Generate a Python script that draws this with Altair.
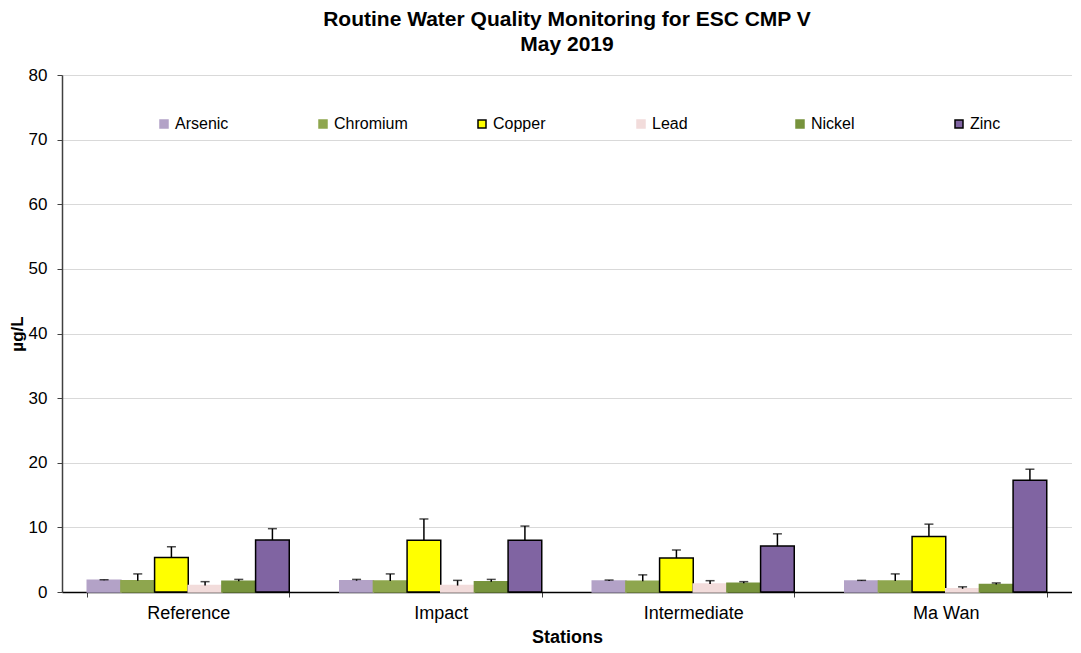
import altair as alt
import pandas as pd

stations = ["Reference", "Impact", "Intermediate", "Ma Wan"]
metals = ["Arsenic", "Chromium", "Copper", "Lead", "Nickel", "Zinc"]

arsenic = [1.8, 1.75, 1.7, 1.7]
chromium = [1.75, 1.7, 1.65, 1.7]
copper = [5.35, 8.0, 5.25, 8.6]
lead = [1.0, 1.0, 1.25, 0.5]
nickel = [1.65, 1.6, 1.35, 1.15]
zinc = [8.05, 8.0, 7.1, 17.3]

arsenic_err = [0.1, 0.2, 0.15, 0.1]
chromium_err = [1.05, 1.1, 1.0, 1.1]
copper_err = [1.65, 3.3, 1.25, 1.9]
lead_err = [0.6, 0.8, 0.5, 0.3]
nickel_err = [0.3, 0.35, 0.25, 0.25]
zinc_err = [1.75, 2.2, 1.9, 1.7]

fills = ["#B3A2C7", "#8EA64E", "#FFFF00", "#F2DCDB", "#77933C", "#8064A2"]
strokes = ["#B3A2C7", "#8EA64E", "#000000", "#F2DCDB", "#77933C", "#000000"]

vals = [arsenic, chromium, copper, lead, nickel, zinc]
errs = [arsenic_err, chromium_err, copper_err, lead_err, nickel_err, zinc_err]

rows = []
for m, v, e in zip(metals, vals, errs):
    for s, vv, ee in zip(stations, v, e):
        rows.append({"station": s, "metal": m, "value": vv, "upper": vv + ee})
df = pd.DataFrame(rows)

FONT = "Liberation Sans"

legend_kw = dict(title=None, orient="none", direction="horizontal",
                 columns=6, legendX=94, legendY=41,
                 symbolType="square", symbolSize=64, symbolStrokeWidth=1.5,
                 labelFontSize=16, labelFont=FONT, labelColor="#000",
                 columnPadding=66, gridAlign="all", labelOffset=3)

x = alt.X("station:N", sort=stations, title="Stations",
          scale=alt.Scale(paddingInner=0.2, paddingOuter=0.1),
          axis=alt.Axis(labelAngle=0, tickBand="extent", labelFontSize=18,
                        titleFontSize=18, titleFontWeight="bold", labelColor="#000",
                        titleColor="#000", domainColor="#000", tickColor="#404040",
                        tickSize=5, labelPadding=7, titlePadding=6, grid=False,
                        labelFont=FONT, titleFont=FONT, domainWidth=1.5))
xo = alt.XOffset("metal:N", sort=metals, scale=alt.Scale(paddingInner=0, paddingOuter=0))

base = alt.Chart(df)

bars = base.mark_bar(strokeWidth=1.5).encode(
    x=x,
    xOffset=xo,
    y=alt.Y("value:Q", title="µg/L",
            scale=alt.Scale(domain=[0, 80]),
            axis=alt.Axis(values=list(range(0, 81, 10)), labelFontSize=17, titleFontSize=17,
                          titleFontWeight="bold", labelColor="#000", titleColor="#000",
                          domainColor="#404040", tickColor="#404040", gridColor="#D9D9D9",
                          tickSize=5, labelPadding=10, titlePadding=2, domainWidth=1.5,
                          labelFont=FONT, titleFont=FONT)),
    fill=alt.Fill("metal:N", sort=metals, scale=alt.Scale(domain=metals, range=fills),
                  legend=alt.Legend(**legend_kw)),
    stroke=alt.Stroke("metal:N", sort=metals, scale=alt.Scale(domain=metals, range=strokes),
                      legend=alt.Legend(**legend_kw)),
)

rules = base.mark_rule(color="#000", strokeWidth=1.5).encode(
    x=alt.X("station:N", sort=stations),
    xOffset=xo,
    y="value:Q",
    y2="upper:Q",
)

caps = base.mark_tick(color="#000", thickness=1.5, size=9).encode(
    x=alt.X("station:N", sort=stations),
    xOffset=xo,
    y="upper:Q",
)

chart = alt.layer(bars, rules, caps).properties(
    width=1010,
    height=517,
    title=alt.Title(["Routine Water Quality Monitoring for ESC CMP V", "May 2019"],
                    fontSize=21, font=FONT, fontWeight="bold", color="#000",
                    lineHeight=25, offset=11, anchor="middle"),
    autosize=alt.AutoSizeParams(type="none"),
    padding={"left": 54, "top": 67, "right": 0, "bottom": 55},
).configure_view(stroke=None).configure(background="white")

chart.save("out.html", embed_options={"renderer": "svg", "actions": False})
